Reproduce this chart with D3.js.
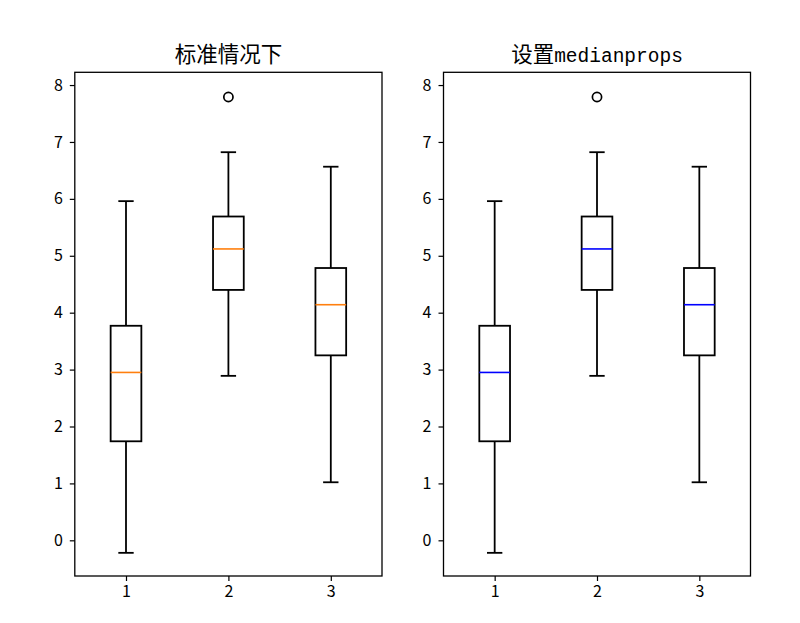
<!DOCTYPE html>
<html>
<head>
<meta charset="utf-8">
<script src="https://cdn.jsdelivr.net/npm/d3@7"></script>
<style>
  html, body { margin: 0; padding: 0; background: #fff; }
  svg { display: block; }
</style>
</head>
<body>
<svg id="chart" width="800" height="623"></svg>
<script>
// ---- data ----
const categories = ["1", "2", "3"];
const whiskerLow = [-0.22, 2.89, 1.02];
const q1 = [1.74, 4.40, 3.25];
const median = [2.95, 5.12, 4.14];
const q3 = [3.77, 5.69, 4.785];
const whiskerHigh = [5.96, 6.82, 6.565];
const outliers = [[], [7.79], []];
const yTicks = [0, 1, 2, 3, 4, 5, 6, 7, 8];
const panelTitles = [
  [{ t: "标准情况下", cjk: true }],
  [{ t: "设置", cjk: true }, { t: "medianprops", cjk: false }]
];
const medianColors = ["#ff7f0e", "#0000ff"];

// ---- layout ----
const svg = d3.select("#chart");
const plotTop = 72.3, plotBottom = 576;
const panels = [
  { left: 74.8, right: 382 },
  { left: 443.5, right: 750.5 }
];
const boxWidth = 0.3, capWidth = 0.15;
const cjkFont = "'Noto Sans CJK SC', 'Noto Sans', sans-serif";

const y = d3.scaleLinear().domain([-0.627, 8.224]).range([plotBottom, plotTop]);

panels.forEach((p, pi) => {
  const x = d3.scaleLinear().domain([0.5, 3.5]).range([p.left, p.right]);
  const g = svg.append("g");

  // y axis
  const ya = g.append("g")
    .attr("transform", `translate(${p.left},0)`)
    .call(d3.axisLeft(y).tickValues(yTicks).tickSize(5).tickPadding(7).tickFormat(d3.format("d")));
  ya.select(".domain").remove();
  ya.selectAll("line").attr("stroke", "#000").attr("stroke-width", 1.2);
  ya.selectAll("text").attr("font-family", cjkFont).attr("font-size", 16).attr("fill", "#000");

  // x axis
  const xa = g.append("g")
    .attr("transform", `translate(0,${plotBottom})`)
    .call(d3.axisBottom(x).tickValues([1, 2, 3]).tickSize(5).tickPadding(5).tickFormat((d, i) => categories[i]));
  xa.select(".domain").remove();
  xa.selectAll("line").attr("stroke", "#000").attr("stroke-width", 1.2);
  xa.selectAll("text").attr("font-family", cjkFont).attr("font-size", 16).attr("fill", "#000");

  // boxes
  categories.forEach((c, i) => {
    const cx = x(i + 1);
    const bw = x(i + 1 + boxWidth / 2) - x(i + 1 - boxWidth / 2);
    const cw = x(i + 1 + capWidth / 2) - x(i + 1 - capWidth / 2);
    const stroke = { stroke: "#000", "stroke-width": 1.8, fill: "none" };
    const line = (x1, y1, x2, y2, st) => {
      const l = g.append("line").attr("x1", x1).attr("y1", y1).attr("x2", x2).attr("y2", y2);
      Object.entries(st).forEach(([k, v]) => l.attr(k, v));
    };
    // whiskers
    line(cx, y(q3[i]), cx, y(whiskerHigh[i]), stroke);
    line(cx, y(q1[i]), cx, y(whiskerLow[i]), stroke);
    // caps
    line(cx - cw / 2, y(whiskerHigh[i]), cx + cw / 2, y(whiskerHigh[i]), stroke);
    line(cx - cw / 2, y(whiskerLow[i]), cx + cw / 2, y(whiskerLow[i]), stroke);
    // box
    g.append("rect")
      .attr("x", cx - bw / 2).attr("y", y(q3[i]))
      .attr("width", bw).attr("height", y(q1[i]) - y(q3[i]))
      .attr("fill", "none").attr("stroke", "#000").attr("stroke-width", 1.8);
    // median
    line(cx - bw / 2, y(median[i]), cx + bw / 2, y(median[i]),
      { stroke: medianColors[pi], "stroke-width": 1.6 });
    // outliers
    outliers[i].forEach(v => {
      g.append("circle").attr("cx", cx).attr("cy", y(v)).attr("r", 4.6)
        .attr("fill", "none").attr("stroke", "#000").attr("stroke-width", 1.7);
    });
  });

  // frame
  g.append("rect")
    .attr("x", p.left).attr("y", plotTop)
    .attr("width", p.right - p.left).attr("height", plotBottom - plotTop)
    .attr("fill", "none").attr("stroke", "#000").attr("stroke-width", 1.3);

  // title
  const t = g.append("text")
    .attr("x", (p.left + p.right) / 2).attr("y", 62)
    .attr("text-anchor", "middle").attr("fill", "#000");
  panelTitles[pi].forEach(part => {
    t.append("tspan")
      .attr("font-family", part.cjk ? cjkFont : "'Liberation Mono', 'DejaVu Sans Mono', monospace")
      .attr("font-size", part.cjk ? 21.5 : 19.5)
      .text(part.t);
  });
});
</script>
</body>
</html>
